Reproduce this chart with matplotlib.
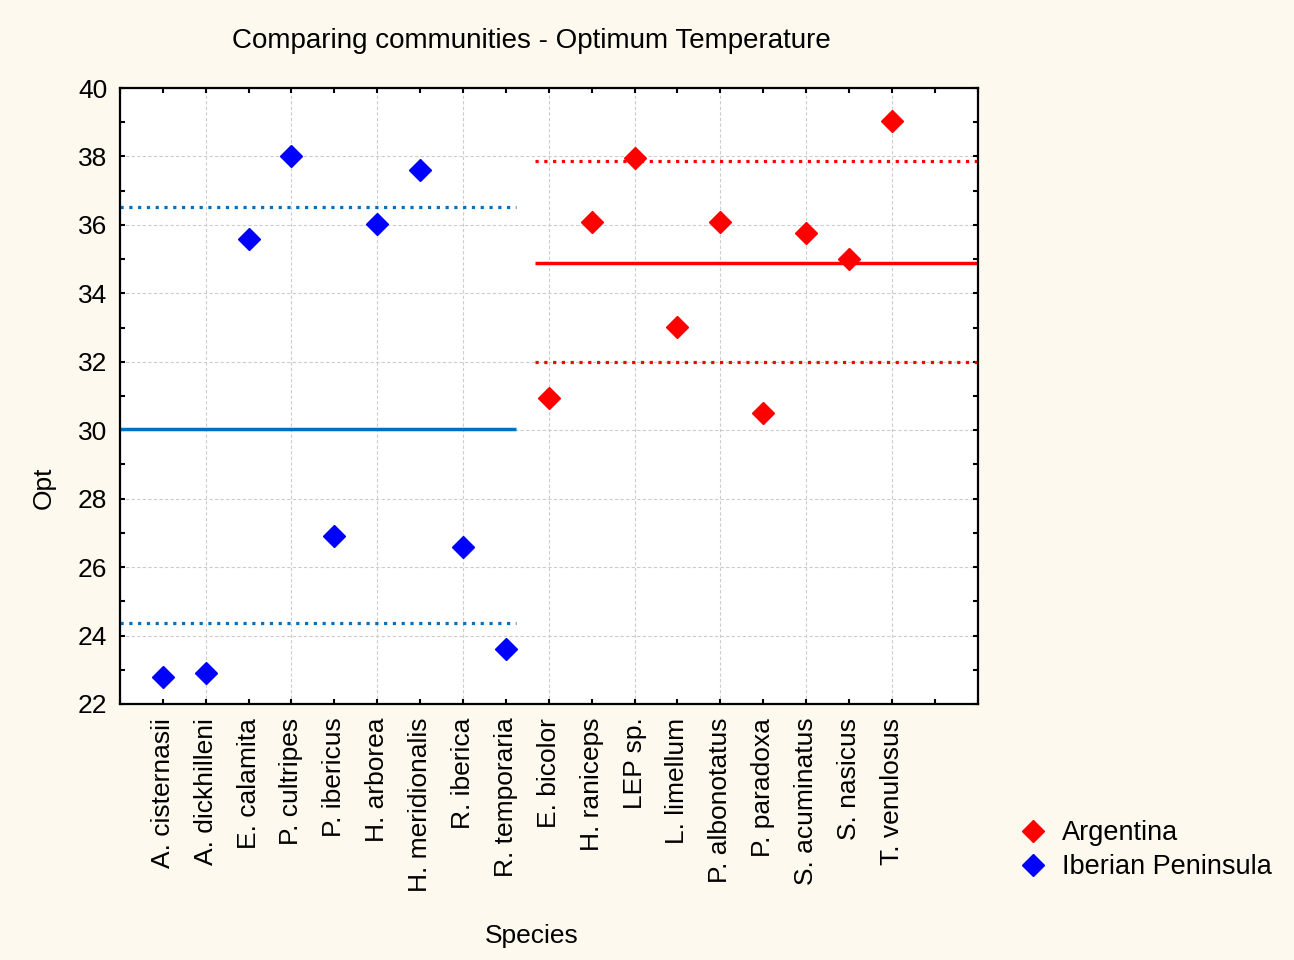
import matplotlib
matplotlib.use("Agg")
import matplotlib.pyplot as plt
from matplotlib.ticker import MultipleLocator

plt.rcParams['font.family'] = ['Liberation Sans', 'DejaVu Sans']

iberian_species = ["A. cisternasii", "A. dickhilleni", "E. calamita", "P. cultripes",
                   "P. ibericus", "H. arborea", "H. meridionalis", "R. iberica", "R. temporaria"]
iberian_opt = [22.8, 22.9, 35.6, 38.0, 26.9, 36.03, 37.6, 26.6, 23.6]

argentina_species = ["E. bicolor", "H. raniceps", "LEP sp.", "L. limellum", "P. albonotatus",
                     "P. paradoxa", "S. acuminatus", "S. nasicus", "T. venulosus"]
argentina_opt = [30.95, 36.08, 37.95, 33.02, 36.08, 30.5, 35.76, 35.0, 39.04]

iberian_mean = 30.04
iberian_band = [24.37, 36.52]
argentina_mean = 34.89
argentina_band = [31.99, 37.87]

iberian_span = [0, 9.23]
argentina_span = [9.69, 20]

blue_line = '#0070C0'
bg = '#FDF9EE'

fig = plt.figure(figsize=(12.94, 9.6), dpi=100, facecolor=bg)
ax = fig.add_axes([0.0927, 0.2667, 0.6628, 0.6416])
ax.set_facecolor('white')

species = iberian_species + argentina_species
xi = list(range(1, len(iberian_species) + 1))
xa = list(range(len(iberian_species) + 1, len(species) + 1))

# group lines
ax.plot(iberian_span, [iberian_mean] * 2, color=blue_line, lw=2.5, solid_capstyle='butt', zorder=2)
for v in iberian_band:
    ax.plot(iberian_span, [v] * 2, color=blue_line, lw=2.3, dashes=(1, 1.75), dash_capstyle='butt', zorder=2)
ax.plot(argentina_span, [argentina_mean] * 2, color='#FF0000', lw=2.5, solid_capstyle='butt', zorder=2)
for v in argentina_band:
    ax.plot(argentina_span, [v] * 2, color='#FF0000', lw=2.3, dashes=(1, 1.75), dash_capstyle='butt', zorder=2)

ax.plot(xa, argentina_opt, 'D', color='#FF0000', ms=11, mec='#FF0000', ls='none', label='Argentina', zorder=3)
ax.plot(xi, iberian_opt, 'D', color='#0000FF', ms=11, mec='#0000FF', ls='none', label='Iberian Peninsula', zorder=3)

ax.set_xlim(0, 20)
ax.set_ylim(22, 40)
ax.xaxis.set_major_locator(MultipleLocator(2))
ax.xaxis.set_minor_locator(MultipleLocator(1))
ax.yaxis.set_major_locator(MultipleLocator(2))
ax.yaxis.set_minor_locator(MultipleLocator(1))
ax.grid(True, which='major', color='#CCCCCC', lw=0.8, ls=(0, (3, 2)), zorder=0)
ax.set_axisbelow(True)

ax.tick_params(axis='both', which='both', direction='in', length=3.5, width=1.5, color='black',
               top=True, right=True)
ax.tick_params(axis='x', which='major', labelbottom=False)
ax.tick_params(axis='y', which='major', labelsize=19, pad=9)

for i, name in enumerate(species):
    ax.text(i + 1, 21.6, name, rotation=90, ha='center', va='top', fontsize=19)

for s in ax.spines.values():
    s.set_linewidth(1.6)
    s.set_color('black')

fig.text(0.034, 0.492, 'Opt', fontsize=19, ha='center', va='center', rotation=90)
fig.text(0.411, 0.025, 'Species', fontsize=19, ha='center', va='center')
fig.text(0.411, 0.957, 'Comparing communities - Optimum Temperature', fontsize=20, ha='center', va='center')

leg = fig.legend(loc='upper left', bbox_to_anchor=(0.7805, 0.157), fontsize=19.5, frameon=False,
                 handlelength=0.9, handletextpad=0.63, labelspacing=0.3, borderaxespad=0)

fig.savefig('out.png', dpi=100, facecolor=bg)
